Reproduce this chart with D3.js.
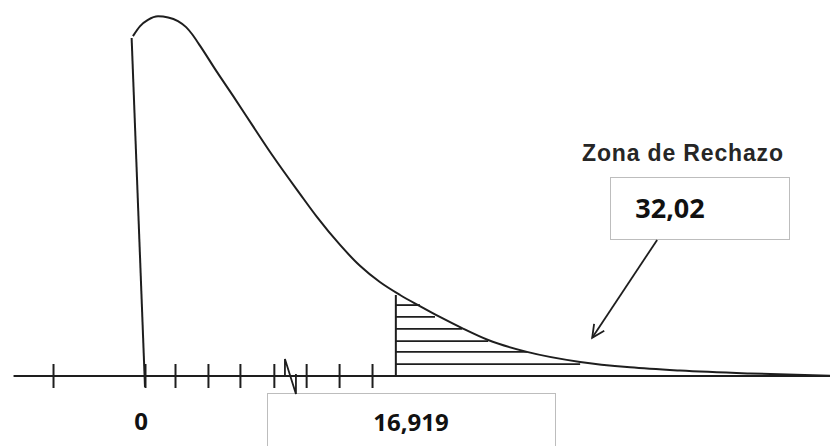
<!DOCTYPE html>
<html>
<head>
<meta charset="utf-8">
<script src="https://cdn.jsdelivr.net/npm/d3@7"></script>
<style>
  body { margin: 0; background: #fff; }
  svg { display: block; }
</style>
</head>
<body>
<div id="chart"></div>
<script>
// curve (x in tick units, y as share of the peak)
const curveX = [-0.37, -0.15, 0.09, 0.40, 0.71, 1.01, 1.26, 1.44, 1.69, 2.21, 2.70, 3.31, 3.92, 4.75, 5.27, 5.98, 6.59, 7.20, 7.82, 8.43, 9.04, 9.72, 10.52, 11.71, 13.34, 14.87, 16.40, 18.55, 21.0];
const curveY = [0.944, 0.972, 0.989, 0.999, 0.996, 0.986, 0.969, 0.950, 0.917, 0.844, 0.778, 0.694, 0.611, 0.506, 0.442, 0.364, 0.306, 0.261, 0.225, 0.194, 0.164, 0.133, 0.100, 0.067, 0.039, 0.024, 0.015, 0.007, 0.001];

const tickVals = [-2.82, 0, 0.92, 1.93, 2.91, 3.95, 4.94, 5.95, 6.96];
const axisStart = -4.03;
const axisEnd = 21;

const critX = 7.69;       // start of rejection zone
const critTop = 0.225;
const hatchLevels = [0.197, 0.164, 0.131, 0.097, 0.067, 0.033];
const hatchEnds = [8.43, 8.89, 9.72, 10.52, 11.71, 13.34];

const leftEdge = [[-0.41, 0.939], [0, 0]];
const breakAt = 4.29;

const arrowFrom = [15.70, 0.378];
const arrowTo = [13.71, 0.106];

const zeroLabel = "0";
const critLabel = "16,919";
const statLabel = "32,02";
const zoneLabel = "Zona de Rechazo";

var width = 830, height = 446;

var svg = d3.select("#chart")
    .append("svg")
    .attr("width", width)
    .attr("height", height);

const x = d3.scaleLinear().domain([0, 21]).range([145, 830]);
const y = d3.scaleLinear().domain([0, 1]).range([376, 16]);

const ink = "#1e1e1e";

// boxes first so lines sit on top
svg.append("rect")
    .attr("x", 267.5).attr("y", 393.5)
    .attr("width", 288).attr("height", 80)
    .attr("fill", "#fff").attr("stroke", "#bdbdbd");

svg.append("rect")
    .attr("x", 610.5).attr("y", 177.5)
    .attr("width", 179).attr("height", 62)
    .attr("fill", "#fff").attr("stroke", "#bdbdbd");

// axis line
svg.append("line")
    .attr("x1", x(axisStart)).attr("x2", x(axisEnd))
    .attr("y1", y(0)).attr("y2", y(0))
    .attr("stroke", ink).attr("stroke-width", 2);

// ticks through the axis
const ax = svg.append("g")
    .attr("transform", `translate(0, ${y(0) - 12})`)
    .call(d3.axisBottom(x).tickValues(tickVals).tickSize(24).tickFormat(""));
ax.select(".domain").remove();
ax.selectAll(".tick line").attr("stroke", ink).attr("stroke-width", 2);

// axis break mark (N shape)
const bx = x(breakAt);
svg.append("path")
    .attr("d", `M${bx},${y(0)} L${bx},359 L${bx + 11},394 L${bx + 11},${y(0) - 2}`)
    .attr("fill", "none").attr("stroke", ink).attr("stroke-width", 1.8)
    .attr("stroke-linejoin", "miter");

// left edge of the density
svg.append("line")
    .attr("x1", x(leftEdge[0][0])).attr("y1", y(leftEdge[0][1]))
    .attr("x2", x(leftEdge[1][0])).attr("y2", y(leftEdge[1][1]) + 11)
    .attr("stroke", ink).attr("stroke-width", 2);

// hatching of rejection zone
svg.append("line")
    .attr("x1", x(critX)).attr("x2", x(critX))
    .attr("y1", y(critTop)).attr("y2", y(0))
    .attr("stroke", ink).attr("stroke-width", 2);

svg.append("g")
    .selectAll("line")
    .data(hatchLevels)
    .join("line")
    .attr("x1", x(critX))
    .attr("x2", (d, i) => x(hatchEnds[i]))
    .attr("y1", d => y(d))
    .attr("y2", d => y(d))
    .attr("stroke", ink)
    .attr("stroke-width", 1.8);

// density curve
const pts = curveX.map((v, i) => [v, curveY[i]]);
svg.append("path")
    .datum(pts)
    .attr("fill", "none")
    .attr("stroke", ink)
    .attr("stroke-width", 2)
    .attr("d", d3.line().x(d => x(d[0])).y(d => y(d[1])).curve(d3.curveMonotoneX));

// arrow
const ax1 = x(arrowFrom[0]), ay1 = y(arrowFrom[1]);
const ax2 = x(arrowTo[0]), ay2 = y(arrowTo[1]);
svg.append("line")
    .attr("x1", ax1).attr("y1", ay1).attr("x2", ax2).attr("y2", ay2)
    .attr("stroke", ink).attr("stroke-width", 1.8);
const ang = Math.atan2(ay1 - ay2, ax1 - ax2);
const hl = 14;
svg.append("path")
    .attr("d", `M${ax2 + hl * Math.cos(ang - 0.45)},${ay2 + hl * Math.sin(ang - 0.45)} L${ax2},${ay2} L${ax2 + hl * Math.cos(ang + 0.45)},${ay2 + hl * Math.sin(ang + 0.45)}`)
    .attr("fill", "none").attr("stroke", ink).attr("stroke-width", 1.8);

// texts
svg.append("text")
    .attr("x", x(0) - 4).attr("y", 430)
    .attr("text-anchor", "middle")
    .style("font-family", "'Noto Sans', sans-serif")
    .style("font-weight", "bold")
    .style("font-size", "24px")
    .attr("fill", "#111")
    .text(zeroLabel);

svg.append("text")
    .attr("x", 411).attr("y", 431)
    .attr("text-anchor", "middle")
    .style("font-family", "'Noto Sans', sans-serif")
    .style("font-weight", "bold")
    .style("font-size", "24px")
    .attr("fill", "#111")
    .text(critLabel);

svg.append("text")
    .attr("x", 670).attr("y", 218)
    .attr("text-anchor", "middle")
    .style("font-family", "'Noto Sans', sans-serif")
    .style("font-weight", "bold")
    .style("font-size", "27px")
    .attr("fill", "#111")
    .text(statLabel);

svg.append("text")
    .attr("x", 582).attr("y", 161)
    .style("font-family", "'Liberation Sans', Arial, sans-serif")
    .style("font-weight", "bold")
    .style("font-size", "23px")
    .attr("textLength", 201)
    .attr("lengthAdjust", "spacing")
    .attr("fill", "#262626")
    .text(zoneLabel);
</script>
</body>
</html>
